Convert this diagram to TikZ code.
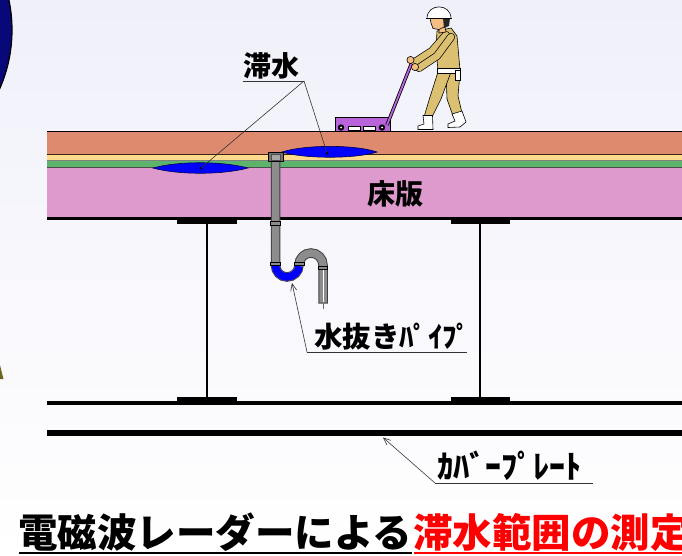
\documentclass[tikz,border=0pt]{standalone}
\usepackage{fontspec}
\newfontfamily\jp{Noto Sans CJK JP}
\usetikzlibrary{arrows.meta,calc}

\definecolor{bgtop}{RGB}{240,240,250}
\definecolor{pave}{RGB}{222,138,110}
\definecolor{sand}{RGB}{255,218,140}
\definecolor{membrane}{RGB}{92,180,108}
\definecolor{deck}{RGB}{222,154,204}
\definecolor{water}{RGB}{0,0,255}
\definecolor{navy}{RGB}{8,8,120}
\definecolor{khaki}{RGB}{218,192,112}
\definecolor{skin}{RGB}{245,190,130}
\definecolor{cartc}{RGB}{186,100,220}
\definecolor{pipec}{RGB}{140,140,140}
\definecolor{titlered}{RGB}{255,0,0}

\tikzset{
  lbl/.style={inner sep=0pt, font=\jp\bfseries\fontsize{28}{30}\selectfont},
  ttl/.style={inner sep=0pt, font=\jp\bfseries\fontsize{39.5}{42}\selectfont},
  leader/.style={line width=0.6pt, draw=black!80},
  pointer/.style={leader, -{Straight Barb[length=7pt,width=6pt]}},
  puddle/.style={fill=water, draw=black!70!blue, line width=0.6pt},
  flange/.style={fill=black},
  web/.style={line width=1.6pt},
  outline/.style={draw=black, line width=0.6pt},
  pipeout/.style={line width=9.5pt, draw=black!75},
  pipein/.style={line width=7.5pt, draw=pipec},
}

\begin{document}
\begin{tikzpicture}[x=1pt,y=-1pt]
\useasboundingbox (0,0) rectangle (682,555);
\shade[top color=bgtop, bottom color=white] (0,0) rectangle (682,555);

% edge of the round emblem, upper left
\filldraw[fill=navy, draw=black, line width=1.2pt] (-134,30) circle (146pt);
% small sliver at the left border
\fill[olive!70!black] (0,365) -- (3.5,379) -- (0,379) -- cycle;

% ---------- deck slab layers ----------
\fill[pave] (47,131) rectangle (682,154);
\fill[sand] (47,154) rectangle (682,160.5);
\fill[membrane] (47,160.5) rectangle (682,167);
\fill[deck] (47,167) rectangle (682,217);
\draw[line width=0.9pt] (47,131) -- (682,131);
\draw[line width=0.8pt, black!70!brown] (47,154) -- (682,154);
\draw[line width=0.5pt, black!50] (47,160.5) -- (682,160.5);
\draw[line width=1.3pt, black!70] (47,167.5) -- (682,167.5);
\draw[line width=3pt] (47,218.5) -- (682,218.5);

% ponded water
\coordinate (dotL) at (201,168);
\coordinate (dotR) at (327,153);
\path[puddle] (153,168) .. controls (178,161) and (222,161) .. (248,168)
  .. controls (222,175) and (178,175) .. (153,168) -- cycle;
\path[puddle] (282,152) .. controls (305,144.5) and (355,144.5) .. (377,152)
  .. controls (355,159) and (305,159) .. (282,152) -- cycle;
\fill (dotL) circle (1.5pt);
\fill (dotR) circle (1.5pt);

\node[lbl] (slab) at (395,194) {床版};

% ---------- girders ----------
\draw[web] (207,221) -- (207,399);
\draw[web] (480,221) -- (480,399);
\fill[flange] (177,219) rectangle (237,223.5);
\fill[flange] (451,219) rectangle (510,223.5);
\fill[flange] (177,397) rectangle (237,403);
\fill[flange] (451,397) rectangle (510,403);
\draw[line width=3.8pt] (47,403) -- (682,403);
\draw[line width=6.5pt] (47,433) -- (682,433);

% ---------- drain pipe ----------
\path[pipeout] (275.5,160) -- (275.5,265)
  .. controls (275.5,271.6) and (280.4,277) .. (287,277)
  .. controls (293.6,277) and (299,271.6) .. (299,265)
  .. controls (299,258.4) and (304.4,253) .. (311,253)
  .. controls (317.6,253) and (323,258.4) .. (323,265) -- (323,303.5);
\path[pipein] (275.5,160) -- (275.5,265)
  .. controls (275.5,271.6) and (280.4,277) .. (287,277)
  .. controls (293.6,277) and (299,271.6) .. (299,265)
  .. controls (299,258.4) and (304.4,253) .. (311,253)
  .. controls (317.6,253) and (323,258.4) .. (323,265) -- (323,302.5);
% water held in the trap
\path[line width=7.5pt, draw=water] (275.5,265.5)
  .. controls (275.5,271.6) and (280.4,277) .. (287,277)
  .. controls (293.6,277) and (299,271.6) .. (299,266);
\draw[white, line width=0.5pt] (323,268) -- (323,302);
\draw[black!60, line width=0.5pt] (323,304) -- (323,309);
% joints
\filldraw[fill=pipec, outline] (270.5,221.5) rectangle (280.5,225.5);
\filldraw[fill=pipec, outline] (270.5,262) rectangle (280.5,265.5);
\filldraw[fill=pipec, outline] (294.5,262) rectangle (304,265.5);
\filldraw[fill=pipec, outline] (318.5,266) rectangle (327.5,269);
% inlet fitting
\filldraw[fill=black!55, outline] (268,152) rectangle (283,161.5);
\filldraw[fill=black!35, draw=black!70, line width=0.4pt] (271,154.5) rectangle (280,160.5);

% ---------- inspector with the radar cart ----------
% cart
\filldraw[fill=cartc, outline] (335,117) rectangle (390,131);
\filldraw[fill=white, draw=black, line width=0.4pt] (348,126.5) rectangle (360,130);
\filldraw[fill=white, draw=black, line width=0.4pt] (363,126.5) rectangle (375,130);
\fill (341,127.5) circle (3.2pt);
\fill (382,127.5) circle (3.2pt);
\fill[white] (341,127.5) circle (1pt);
\fill[white] (382,127.5) circle (1pt);
% handle
\draw[line width=3.4pt, black] (412,62) -- (387,125);
\draw[line width=1.8pt, cartc] (412,62) -- (387,125);
% rear leg and boot
\filldraw[fill=khaki, outline] (446,72) -- (460,72) -- (458,96) -- (462,113)
  -- (453,116) -- (447,99) -- cycle;
\filldraw[fill=white, outline] (452,114) -- (462,111) -- (466,122) -- (460,127)
  -- (448,127.5) -- (448,124) -- (455,121) -- cycle;
% front leg and boot
\filldraw[fill=khaki, outline] (438,72) -- (451,72) -- (441,99) -- (432,117)
  -- (424,117) -- (430,97) -- cycle;
\filldraw[fill=white, outline] (423,115.5) -- (432.5,115.5) -- (433,129.5)
  -- (418,129.5) -- (418,126) -- (424,124) -- cycle;
% torso
\filldraw[fill=khaki, outline] (437,31) -- (451,28) -- (457,36) -- (460,70)
  -- (438,70) -- (436,50) -- cycle;
% arms
\draw[line width=8pt, black, line cap=round, line join=round] (446,35) -- (432,51) -- (415,62);
\draw[line width=6.6pt, khaki, line cap=round, line join=round] (446,35) -- (432,51) -- (415,62);
\draw[line width=8pt, black, line cap=round, line join=round] (451,37) -- (437,56) -- (419,68);
\draw[line width=6.6pt, khaki, line cap=round, line join=round] (451,37) -- (437,56) -- (419,68);
\filldraw[fill=skin, outline] (410.5,60) circle (3.6pt);
\filldraw[fill=skin, outline] (415,67) circle (3.6pt);
% belt and pouch
\filldraw[fill=white, outline] (437,68) rectangle (460,73);
\filldraw[fill=white, outline] (455,70) rectangle (460.5,80);
% neck and head
\filldraw[fill=skin, outline] (439,27) -- (445,27) -- (446,32) -- (439,33) -- cycle;
\filldraw[fill=skin, outline] (430,18) -- (445,18) -- (446,26) -- (439,29.5)
  -- (433,28.5) -- (431,23) -- cycle;
\fill[black!85] (443,18) -- (450,18) -- (449,26) -- (444,28) -- cycle;
% helmet
\filldraw[fill=white, outline] (427,18.5) .. controls (427,3) and (451,3) .. (451,18.5) -- cycle;
\draw[line width=0.6pt] (426,18.5) -- (452,18.5);

% ---------- labels and leaders ----------
\node[lbl, anchor=base west] (water) at (243,76) {滞水};
\coordinate (waterEnd) at (304,81);
\draw[leader] (243,81) -- (waterEnd);
\draw[leader] (waterEnd) -- (dotL);
\draw[leader] (waterEnd) -- (dotR);

\node[lbl, anchor=base west, font=\jp\bfseries\fontsize{28.5}{30}\selectfont] (drain) at (314,347) {水抜きﾊﾟｲﾌﾟ};
\coordinate (drainEnd) at (307,352);
\coordinate (drainTip) at (292,283);
\draw[leader] (drainEnd) -- (467,352);
\draw[pointer] (drainEnd) -- (drainTip);

\node[lbl, anchor=base west, font=\jp\bfseries\fontsize{32}{34}\selectfont] (cover) at (437,478) {ｶﾊﾞｰﾌﾟﾚｰﾄ};
\coordinate (coverEnd) at (435,483);
\coordinate (coverTip) at (383,437.5);
\draw[leader] (coverEnd) -- (593,483);
\draw[pointer] (coverEnd) -- (coverTip);

% ---------- title ----------
\node[ttl, anchor=base west] (title) at (18,547) {電磁波レーダーによる};
\node[ttl, anchor=base west, text=titlered] (subject) at (413,547) {滞水範囲の測定};
\draw[line width=2pt] (19,553) -- (412,553);
\draw[line width=2.5pt, titlered] (414,553) -- (682,553);
\end{tikzpicture}
\end{document}
